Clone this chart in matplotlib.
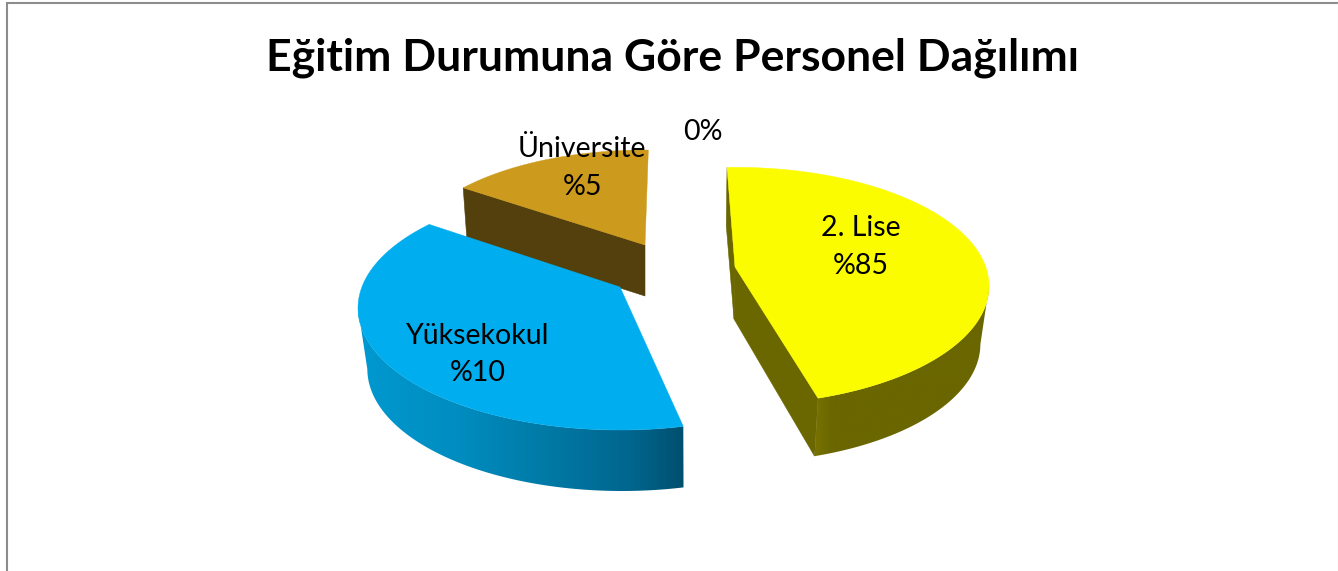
import numpy as np
import matplotlib
matplotlib.use("Agg")
import matplotlib.pyplot as plt
from matplotlib.patches import Polygon
from matplotlib.colors import LinearSegmentedColormap

# ---- data ----
title = "Eğitim Durumuna Göre Personel Dağılımı"
categories = ["2. Lise", "Yüksekokul", "Üniversite"]
printed_labels = ["%85", "%10", "%5"]
drawn_shares = [45.2, 40.9, 13.9]          # share of the circle actually drawn (percent)
zero_label = "0%"

# ---- style / layout ----
W, H = 1338, 571
start_deg = -1.8
nudge_deg = [0.0, 5.1, 2.6]
tips = [(735, 267), (620, 287), (645, 245)]
radii_x = [254, 262, 240]
radii_y = [118.7, 122, 109]
center_dy = [19, 21, 14]
depth = [58, 61, 51]
bottom_scale_x = [0.97, 0.972, 0.98]
bottom_shift_x = [-1, 2, 0]
top_colors = ["#FCFC00", "#00AEEF", "#CC9A1C"]
flat_wall = ["#6A6600", "#007AA6", "#54400C"]
wall_stops = [[(0, "#787200"), (0.1, "#6A6600"), (1, "#6A6600")],
              [(0, "#0099D0"), (0.3, "#008DC0"), (0.6, "#0078A4"), (0.85, "#00658C"), (1, "#004F6E")],
              [(0, "#54400C"), (1, "#54400C")]]
label_pos = [(861, 247), (478, 354.5), (582, 168)]

fig = plt.figure(figsize=(W / 100, H / 100), dpi=100, facecolor="white")
ax = fig.add_axes([0, 0, 1, 1])


def point(i, deg, level):
    """Point on the rim of slice i; level 0 = top face, 1 = lower face."""
    t = np.radians(deg)
    s = 1 + (bottom_scale_x[i] - 1) * level
    x = tips[i][0] + bottom_shift_x[i] * level + radii_x[i] * s * np.sin(t)
    y = tips[i][1] + center_dy[i] + depth[i] * level - radii_y[i] * np.cos(t)
    return x, y


def draw_slice(i, a0, a1):
    base = 3 * (2 - i)
    ts = np.linspace(a0, a1, 300)
    tip_top = tips[i]
    tip_low = (tips[i][0] - (i == 0), tips[i][1] + depth[i] - 6 * (i == 0))
    # flat walls along the cut edges that face the viewer
    wall_edges = {0: (a0, a1), 1: (), 2: (a0,)}[i]
    for edge in wall_edges:
        xa, ya = point(i, edge, 0)
        xb, yb = point(i, edge, 1)
        ax.fill([tip_top[0], xa, xb, tip_low[0]], [tip_top[1], ya, yb, tip_low[1]],
                color=flat_wall[i], lw=0.4, zorder=2 + base)
    # outer curved wall, shaded from left to right
    vis = ts[np.cos(np.radians(ts)) < 0]
    if len(vis):
        rim = [point(i, d, 0) for d in vis] + [point(i, d, 1) for d in vis[::-1]]
        clip = Polygon(rim, closed=True, transform=ax.transData, fc="none", ec="none")
        ax.add_patch(clip)
        xs = [p[0] for p in rim]
        ys = [p[1] for p in rim]
        cmap = LinearSegmentedColormap.from_list("w", wall_stops[i])
        im = ax.imshow(np.linspace(0, 1, 512)[None, :], extent=(min(xs), max(xs), max(ys), min(ys)),
                       cmap=cmap, aspect="auto", zorder=3 + base, interpolation="bilinear")
        im.set_clip_path(clip)
    # top face
    xs, ys = zip(*[point(i, d, 0) for d in ts])
    ax.fill([tip_top[0], *xs], [tip_top[1], *ys], color=top_colors[i], lw=0.3, zorder=4 + base)


edges = start_deg + np.concatenate([[0], np.cumsum(drawn_shares)]) * 3.6
for i in (2, 1, 0):
    draw_slice(i, edges[i] + nudge_deg[i], edges[i + 1] + nudge_deg[i])

ax.set_xlim(0, W)
ax.set_ylim(H, 0)
ax.axis("off")

# frame
ax.plot([6.5, 6.5, W + 5], [H + 5, 2.5, 2.5], color="#8C8C8C", lw=1.5, solid_joinstyle="miter")
ax.plot([W - 0.5, W - 0.5], [3, H], color="#EEEEEE", lw=1)

# text
ax.text(672.5, 58, title, ha="center", va="center", fontsize=32, fontweight="bold",
        family="Lato", color="black", zorder=20)
for cat, lab, (x, y) in zip(categories, printed_labels, label_pos):
    ax.text(x, y, f"{cat}\n{lab}", ha="center", va="center", fontsize=20.5, family="Lato",
            color="black", linespacing=1.56, zorder=20)
ax.text(703, 132, zero_label, ha="center", va="center", fontsize=20.5, family="Lato", color="black", zorder=20)

fig.savefig("out.png", dpi=100, facecolor="white")
